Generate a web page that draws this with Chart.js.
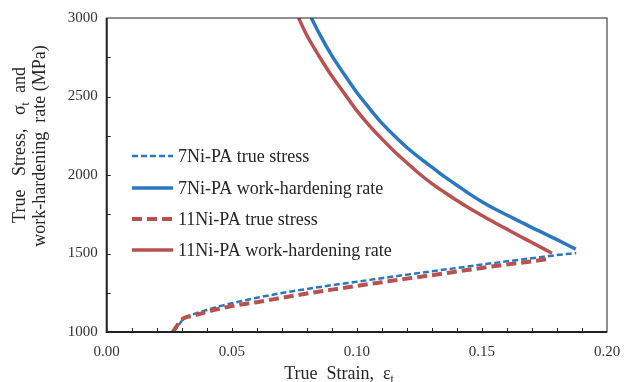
<!DOCTYPE html>
<html>
<head>
<meta charset="utf-8">
<script src="https://cdn.jsdelivr.net/npm/chart.js@4"></script>
<style>
  body { margin: 0; background: #fff; }
  #wrap { width: 639px; height: 382px; }
</style>
</head>
<body>
<div id="wrap"><canvas id="stressChart"></canvas></div>
<script>
// ---------- data ----------
const ni7StressX = [0.0268, 0.029, 0.031, 0.035, 0.040, 0.045, 0.050, 0.060, 0.070, 0.080, 0.090, 0.100, 0.110, 0.120, 0.130, 0.140, 0.150, 0.160, 0.170, 0.180, 0.1877];
const ni7StressY = [1000, 1050, 1088, 1115, 1140, 1163, 1183, 1218, 1248, 1274, 1298, 1320, 1343, 1365, 1387, 1408, 1430, 1450, 1470, 1490, 1503];

const ni7WhrX = [0.0818, 0.085, 0.090, 0.095, 0.100, 0.105, 0.110, 0.115, 0.120, 0.125, 0.130, 0.135, 0.140, 0.145, 0.150, 0.155, 0.160, 0.165, 0.170, 0.175, 0.180, 0.1875];
const ni7WhrY = [3000, 2900, 2760, 2640, 2525, 2425, 2330, 2250, 2175, 2110, 2050, 1990, 1935, 1880, 1830, 1785, 1745, 1705, 1665, 1627, 1588, 1528];

const ni11StressX = [0.0264, 0.029, 0.0306, 0.035, 0.040, 0.045, 0.050, 0.060, 0.070, 0.080, 0.090, 0.100, 0.110, 0.120, 0.130, 0.140, 0.150, 0.160, 0.170, 0.1765];
const ni11StressY = [1000, 1060, 1086, 1105, 1128, 1148, 1165, 1190, 1218, 1245, 1270, 1294, 1317, 1340, 1362, 1385, 1408, 1430, 1450, 1465];

const ni11WhrX = [0.0767, 0.080, 0.085, 0.090, 0.095, 0.100, 0.105, 0.110, 0.115, 0.120, 0.125, 0.130, 0.135, 0.140, 0.145, 0.150, 0.155, 0.160, 0.165, 0.170, 0.178];
const ni11WhrY = [3000, 2890, 2755, 2630, 2520, 2410, 2315, 2230, 2150, 2078, 2008, 1945, 1890, 1837, 1788, 1742, 1698, 1655, 1612, 1570, 1502];

const seriesNames = ["7Ni-PA true stress", "7Ni-PA work-hardening rate", "11Ni-PA true stress", "11Ni-PA work-hardening rate"];
const xTickLabels = ["0.00", "0.05", "0.10", "0.15", "0.20"];
const yTickLabels = ["1000", "1500", "2000", "2500", "3000"];

const BLUE = "#2B78C2";
const RED = "#B8514F";
const SERIF = "'Liberation Serif', 'Times New Roman', serif";

const toPts = (xs, ys) => xs.map((x, i) => ({ x: x, y: ys[i] }));

// inward tick marks + frame
const frame = {
  id: "frame",
  afterDatasetsDraw(chart) {
    const { ctx, chartArea: a, scales } = chart;
    ctx.save();
    ctx.strokeStyle = "#222";
    ctx.lineWidth = 1;
    ctx.strokeRect(a.left, a.top, a.right - a.left, a.bottom - a.top);
    ctx.beginPath();
    for (let i = 1; i < 20; i++) {
      const px = Math.round(scales.x.getPixelForValue(i / 100)) + 0.5;
      ctx.moveTo(px, a.bottom);
      ctx.lineTo(px, a.bottom - 4);
    }
    for (let v = 1250; v < 3000; v += 250) {
      const py = Math.round(scales.y.getPixelForValue(v)) + 0.5;
      ctx.moveTo(a.left, py);
      ctx.lineTo(a.left + 4, py);
    }
    ctx.stroke();
    ctx.lineWidth = 2;
    ctx.beginPath();
    ctx.moveTo(a.left, a.top);
    ctx.lineTo(a.left, a.bottom);
    ctx.lineTo(a.right, a.bottom);
    ctx.stroke();
    ctx.restore();
  },
};

// text with a subscript part
function richText(ctx, parts, cx, cy, size) {
  const big = size + "px " + SERIF;
  const small = Math.round(size * 0.65) + "px " + SERIF;
  let total = 0;
  parts.forEach((p) => {
    ctx.font = p.sub ? small : big;
    total += ctx.measureText(p.t).width;
  });
  let x = cx - total / 2;
  ctx.textAlign = "left";
  ctx.textBaseline = "middle";
  parts.forEach((p) => {
    ctx.font = p.sub ? small : big;
    ctx.fillText(p.t, x, p.sub ? cy + size * 0.3 : cy);
    x += ctx.measureText(p.t).width;
  });
}

const titlesAndLegend = {
  id: "titlesAndLegend",
  afterDraw(chart) {
    const ctx = chart.ctx;
    ctx.save();
    ctx.fillStyle = "#262626";
    // x title
    richText(ctx, [{ t: "True  Strain,  ε" }, { t: "t", sub: true }], 339, 374, 18);
    // y title (two lines)
    ctx.save();
    ctx.translate(20, 145);
    ctx.rotate(-Math.PI / 2);
    richText(ctx, [{ t: "True   Stress,   σ" }, { t: "t", sub: true }, { t: "  and" }], 0, 0, 18);
    ctx.restore();
    ctx.save();
    ctx.translate(40, 146);
    ctx.rotate(-Math.PI / 2);
    richText(ctx, [{ t: "work-hardening  rate (MPa)" }], 0, 0, 18);
    ctx.restore();

    // legend
    const rows = [156, 188, 219, 250];
    chart.data.datasets.forEach((ds, i) => {
      ctx.strokeStyle = ds.borderColor;
      ctx.lineWidth = ds.borderWidth;
      ctx.setLineDash(ds.borderDash || []);
      ctx.beginPath();
      ctx.moveTo(132, rows[i]);
      ctx.lineTo(173, rows[i]);
      ctx.stroke();
      ctx.setLineDash([]);
      ctx.font = "18px " + SERIF;
      ctx.textAlign = "left";
      ctx.textBaseline = "middle";
      ctx.fillText(ds.label, 178, rows[i] + 1);
    });
    ctx.restore();
  },
};

new Chart(document.getElementById("stressChart"), {
  type: "scatter",
  data: {
    datasets: [
      {
        label: seriesNames[0],
        data: toPts(ni7StressX, ni7StressY),
        showLine: true,
        borderColor: BLUE,
        borderWidth: 2.5,
        borderDash: [6, 3],
        pointRadius: 0,
        cubicInterpolationMode: "monotone",
        order: 3,
      },
      {
        label: seriesNames[1],
        data: toPts(ni7WhrX, ni7WhrY),
        showLine: true,
        borderColor: BLUE,
        borderWidth: 3.5,
        pointRadius: 0,
        cubicInterpolationMode: "monotone",
        order: 2,
      },
      {
        label: seriesNames[2],
        data: toPts(ni11StressX, ni11StressY),
        showLine: true,
        borderColor: RED,
        borderWidth: 4,
        borderDash: [10, 5],
        pointRadius: 0,
        cubicInterpolationMode: "monotone",
        order: 1,
      },
      {
        label: seriesNames[3],
        data: toPts(ni11WhrX, ni11WhrY),
        showLine: true,
        borderColor: RED,
        borderWidth: 3.5,
        pointRadius: 0,
        cubicInterpolationMode: "monotone",
        order: 0,
      },
    ],
  },
  options: {
    responsive: true,
    maintainAspectRatio: false,
    animation: false,
    layout: { padding: { left: 0, top: 15, right: 32, bottom: 0 } },
    plugins: {
      legend: { display: false },
      tooltip: { enabled: false },
    },
    scales: {
      x: {
        type: "linear",
        min: 0,
        max: 0.2,
        afterFit: (s) => { s.height = 50; },
        afterBuildTicks: (s) => {
          s.ticks = xTickLabels.map((l) => ({ value: parseFloat(l) }));
        },
        ticks: {
          autoSkip: false,
          maxRotation: 0,
          padding: 11,
          color: "#333",
          font: { family: SERIF, size: 15 },
          callback: (v) => xTickLabels.find((l) => Math.abs(parseFloat(l) - v) < 1e-9) || "",
        },
        grid: { drawOnChartArea: false, drawTicks: false },
        border: { display: false },
      },
      y: {
        min: 1000,
        max: 3000,
        afterFit: (s) => { s.width = 106.7; },
        afterBuildTicks: (s) => {
          s.ticks = yTickLabels.map((l) => ({ value: Number(l) }));
        },
        ticks: {
          autoSkip: false,
          padding: 9,
          color: "#333",
          font: { family: SERIF, size: 15 },
          callback: (v) => String(v),
        },
        grid: { drawOnChartArea: false, drawTicks: false },
        border: { display: false },
      },
    },
  },
  plugins: [frame, titlesAndLegend],
});
</script>
</body>
</html>
